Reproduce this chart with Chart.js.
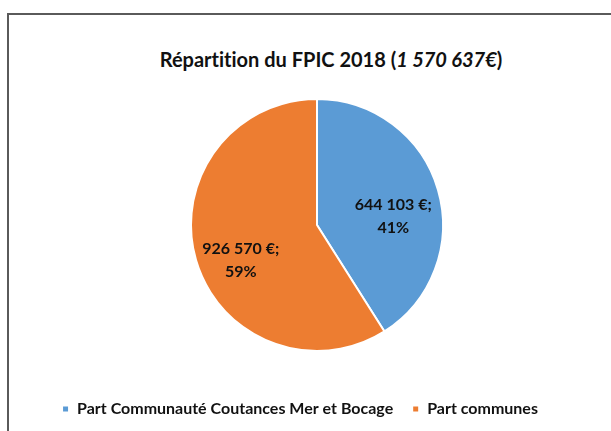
<!DOCTYPE html>
<html>
<head>
<meta charset="utf-8">
<script src="https://cdn.jsdelivr.net/npm/chart.js@4/dist/chart.umd.min.js"></script>
<style>
  html, body { margin:0; padding:0; background:#fff; }
  #wrap { position:relative; width:611px; height:431px; overflow:hidden; }
  #frame { position:absolute; left:7px; top:13px; width:700px; height:500px;
           border-left:2px solid #5a5a5a; border-top:2px solid #5a5a5a; box-sizing:border-box; }
  #title { position:absolute; left:0; top:47px; width:662px; text-align:center;
           font:bold 20px Lato, "Open Sans", sans-serif; color:#111; white-space:nowrap;
           font-variant-ligatures:none; }
  #box { position:absolute; left:0; top:0; width:611px; height:431px; }
</style>
</head>
<body>
<div id="wrap">
  <div id="frame"></div>
  <div id="title">Répartition du FPIC 2018 (<i>1 570 637€</i>)</div>
  <div id="box"><canvas id="pie"></canvas></div>
</div>
<script>
// ── data ─────────────────────────────────────────────────────
const LABELS  = ["Part Communauté Coutances Mer et Bocage", "Part communes"];
const VALUES  = [644103, 926570];
const COLORS  = ["#5b9bd5", "#ed7d31"];

const FONT = { family:"Lato, 'Open Sans', sans-serif", weight:"bold" };

const fmt = v => String(v).replace(/\B(?=(\d{3})+(?!\d))/g, " ") + " €;";

// shift the pie a bit right of the legend centre, like the Excel layout
const shiftPie = {
  id:"shiftPie",
  afterLayout(chart) { chart.chartArea.left += 17; chart.chartArea.right += 17; },
};

// value + percent labels inside slices
const sliceLabels = {
  id:"sliceLabels",
  afterDatasetsDraw(chart) {
    const { ctx } = chart;
    const meta = chart.getDatasetMeta(0);
    const total = VALUES.reduce((a, b) => a + b, 0);
    ctx.save();
    ctx.font = "bold 16px " + FONT.family;
    ctx.fillStyle = "#111";
    ctx.textAlign = "center";
    ctx.textBaseline = "middle";
    meta.data.forEach((arc, i) => {
      const mid = (arc.startAngle + arc.endAngle) / 2;
      const r = arc.outerRadius * 0.63;
      const x = arc.x + Math.cos(mid) * r;
      const y = arc.y + Math.sin(mid) * r + 13;
      const pct = Math.round(VALUES[i] / total * 100) + "%";
      ctx.fillText(fmt(VALUES[i]), x, y - 11);
      ctx.fillText(pct, x, y + 12);
    });
    ctx.restore();
  },
};

new Chart(document.getElementById("pie"), {
  type:"pie",
  data:{
    labels:LABELS,
    datasets:[{ data:VALUES, backgroundColor:COLORS, borderColor:"#fff", borderWidth:2, radius:126 }],
  },
  options:{
    responsive:true, maintainAspectRatio:false, animation:false,
    layout:{ padding:{ top:68, bottom:4, left:0, right:11 } },
    plugins:{
      legend:{ position:"bottom",
               labels:{ boxWidth:7, boxHeight:7, padding:19, color:"#111",
                        font:{ ...FONT, size:16 } } },
      tooltip:{ enabled:false },
    },
  },
  plugins:[shiftPie, sliceLabels],
});
</script>
</body>
</html>
